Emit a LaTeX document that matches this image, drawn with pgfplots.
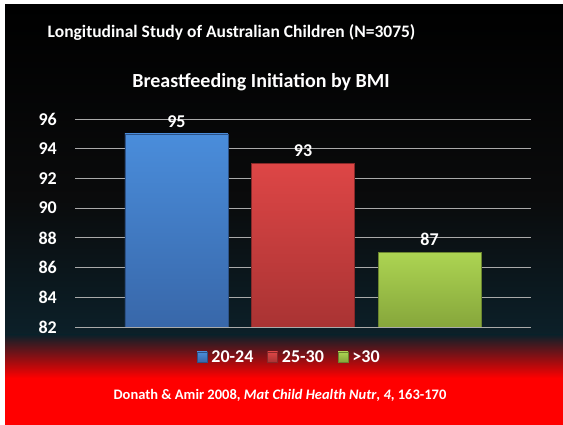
\documentclass[border=0pt]{standalone}
\usepackage{pgfplots}
\pgfplotsset{compat=1.18}
\usepackage{fontspec}
\setmainfont{Carlito}
\definecolor{tealbg}{RGB}{12,32,41}
\definecolor{nearblack}{RGB}{10,11,12}
\definecolor{bgred}{RGB}{255,0,0}
\definecolor{bluetop}{RGB}{74,141,219}
\definecolor{bluebot}{RGB}{56,103,169}
\definecolor{redtop}{RGB}{221,70,70}
\definecolor{redbot}{RGB}{169,51,51}
\definecolor{greentop}{RGB}{172,212,82}
\definecolor{greenbot}{RGB}{134,166,59}
\definecolor{gridgray}{RGB}{170,170,170}
\begin{document}
\begin{tikzpicture}[x=1pt,y=1pt]
\useasboundingbox (0,0) rectangle (563,425);
\fill[white] (0,0) rectangle (563,425);
\fill[top color=black,bottom color=nearblack] (5,420) rectangle (563,225);
\fill[top color=nearblack,bottom color=tealbg] (5,225.2) rectangle (563,90);
\fill[top color=tealbg,bottom color=bgred] (5,90.2) rectangle (563,47);
\fill[bgred] (5,47.2) rectangle (563,0);
\node[text=white,font=\bfseries\fontsize{17.5}{20}\selectfont] at (231.5,393) {Longitudinal Study of Australian Children (N=3075)};
\node[text=white,font=\bfseries\fontsize{20}{24}\selectfont] at (261,343) {Breastfeeding Initiation by BMI};
\node[text=white,font=\bfseries\fontsize{14.5}{17}\selectfont] at (280,30) {Donath \& Amir 2008, \textit{Mat Child Health Nutr}, \textit{4}, 163-170};
\begin{axis}[
  at={(75pt,98pt)}, anchor=south west,
  scale only axis, width=456pt, height=208pt,
  xmin=-0.802, xmax=2.802, ymin=82, ymax=96,
  ytick={82,84,...,96},
  xtick=\empty,
  axis line style={draw=none},
  tick style={draw=none},
  ymajorgrids,
  major grid style={color=gridgray, line width=0.9pt},
  /pgf/number format/assume math mode=true,
  yticklabel style={font=\bfseries\fontsize{18}{21}\selectfont, text=white, inner sep=0pt, xshift=-18pt},
  ybar, bar shift=0pt, bar width=0.814,
  nodes near coords,
  nodes near coords style={font=\bfseries\fontsize{18}{21}\selectfont, text=white, yshift=3pt},
  legend columns=3,
  legend style={at={(0.47,-0.144)}, anchor=center, draw=none, fill=none,
    font=\bfseries\fontsize{18}{21}\selectfont, text=white,
    /tikz/every odd column/.append style={column sep=2pt},
    /tikz/every even column/.append style={column sep=12pt}},
  legend image code/.code={\draw[#1] (0pt,-5pt) rectangle (10pt,5pt);},
]
\addplot[top color=bluetop, bottom color=bluebot, draw=bluebot!80!black, line width=0.5pt] coordinates {(0,95)};
\addlegendentry{20-24}
\addplot[top color=redtop, bottom color=redbot, draw=redbot!80!black, line width=0.5pt] coordinates {(1,93)};
\addlegendentry{25-30}
\addplot[top color=greentop, bottom color=greenbot, draw=greenbot!80!black, line width=0.5pt] coordinates {(2,87)};
\addlegendentry{>30}
\end{axis}
\end{tikzpicture}
\end{document}
